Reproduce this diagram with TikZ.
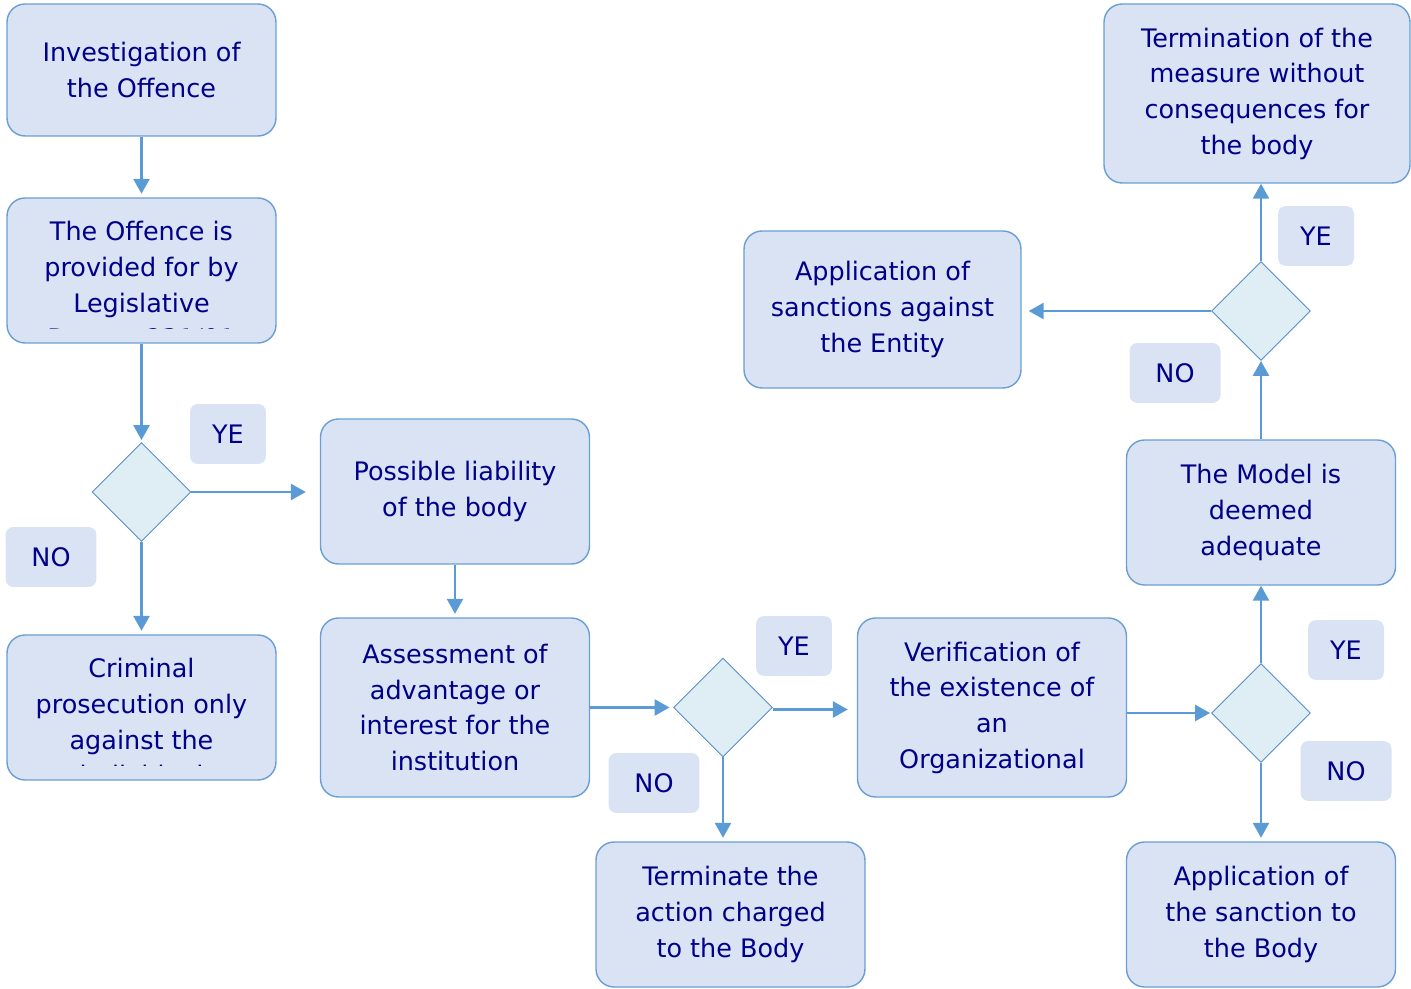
\documentclass[tikz,border=0pt]{standalone}
\usepackage{fontspec}
\setmainfont{DejaVu Sans}
\usepackage{tikz}
\usetikzlibrary{shapes.geometric, arrows.meta, positioning}
\definecolor{boxfill}{HTML}{DAE3F3}
\definecolor{boxline}{HTML}{6A9ED4}
\definecolor{diafill}{HTML}{DEEEF4}
\definecolor{dialine}{HTML}{5A8CC8}
\definecolor{flowc}{HTML}{5B9BD5}
\definecolor{txt}{HTML}{000088}

\begin{document}
\begin{tikzpicture}[x=0.02cm, y=-0.02cm,
    every node/.style={font=\fontsize{14.5}{20.3}\selectfont, text=txt},
    block/.style={draw=boxline, fill=boxfill, rounded corners=0.36cm, line width=0.8pt, minimum width=5.38cm, minimum height=2.9cm, align=center, inner sep=0pt},
    decision/.style={diamond, draw=dialine, fill=diafill, line width=0.5pt, minimum width=1.98cm, minimum height=1.98cm, inner sep=0pt},
    tag/.style={fill=boxfill, rounded corners=0.16cm, minimum height=1.2cm, minimum width=1.52cm, inner sep=0pt},
    flow/.style={draw=flowc, line width=1.5pt, -{Triangle[length=0.3cm, width=0.32cm]}, shorten >=0.07cm}]
  \useasboundingbox (0,0) rectangle (1411,989);
  % \draw[help lines, step=1cm] (0,0) grid (1411,989);

  % left column
  \node[block, minimum height=2.64cm] (inv) at (141.5,70) {Investigation of\\the Offence};
  \node[block] (offence) at (141.5,270.5) {};
  \begin{scope}
    \clip (offence.north west) rectangle ([yshift=0.3cm]offence.south east);
    \node[align=center] (offtext) at (141.5,286) {The Offence is\\provided for by\\Legislative\\Decree 231/01};
  \end{scope}
  \node[decision] (d1) at (141.5,492) {};
  \node[block] (crim) at (141.5,707.5) {};
  \begin{scope}
    \clip (crim.north west) rectangle ([yshift=0.3cm]crim.south east);
    \node[align=center] (crimtext) at (141.5,722) {Criminal\\prosecution only\\against the\\individual};
  \end{scope}
  \node[tag] (ye1) at (228,434) {YE};
  \node[tag, minimum width=1.82cm] (no1) at (51,557) {NO};

  % middle
  \node[block] (liab) at (455,491.5) {Possible liability\\of the body};
  \node[block, minimum height=3.58cm] (assess) at (455,707.5) {Assessment of\\advantage or\\interest for the\\institution};
  \node[decision] (d2) at (723,707.5) {};
  \node[tag] (ye2) at (794,646) {YE};
  \node[tag, minimum width=1.82cm] (no2) at (654,783) {NO};
  \node[block] (term) at (730.5,914.5) {Terminate the\\action charged\\to the Body};
  \node[block, minimum height=3.58cm] (verif) at (992,707.5) {Verification of\\the existence of\\an\\Organizational};

  % right column
  \node[decision] (d3) at (1261,713) {};
  \node[tag] (ye3) at (1346,650) {YE};
  \node[tag, minimum width=1.82cm] (no3) at (1346,771) {NO};
  \node[block] (sanct) at (1261,914.5) {Application of\\the sanction to\\the Body};
  \node[block] (model) at (1261,512.5) {The Model is\\deemed\\adequate};
  \node[decision] (d4) at (1261,311) {};
  \node[tag] (ye4) at (1316,236) {YE};
  \node[tag, minimum width=1.82cm] (no4) at (1175,373) {NO};
  \node[block, minimum width=6.12cm, minimum height=3.58cm] (ends) at (1257,93.5) {Termination of the\\measure without\\consequences for\\the body};
  \node[block, minimum width=5.54cm, minimum height=3.14cm] (entity) at (882.5,309.5) {Application of\\sanctions against\\the Entity};

  % connectors
  \draw[flow] (inv) -- (offence);
  \draw[flow, shorten >=0.04cm] (offence) -- (d1);
  \draw[flow, shorten >=0.28cm] (d1) -- (liab.west |- d1);
  \draw[flow] (d1) -- (crim);
  \draw[flow] (liab) -- (assess);
  \draw[flow] (assess) -- (d2);
  \draw[flow, shorten >=0.18cm] ([yshift=-0.04cm]d2.east) -- ([yshift=-0.04cm]d2.east -| verif.west);
  \draw[flow] (d2.south) -- (d2.south |- term.north);
  \draw[flow, shorten >=0.02cm] (verif.east |- d3) -- (d3);
  \draw[flow] (d3) -- (sanct);
  \draw[flow, shorten >=0cm] (d3) -- (model);
  \draw[flow, shorten >=0cm] (model) -- (d4);
  \draw[flow, shorten >=0cm] (d4.north) -- (d4.north |- ends.south);
  \draw[flow, shorten >=0.14cm] (d4) -- (d4 -| entity.east);
\end{tikzpicture}
\end{document}
